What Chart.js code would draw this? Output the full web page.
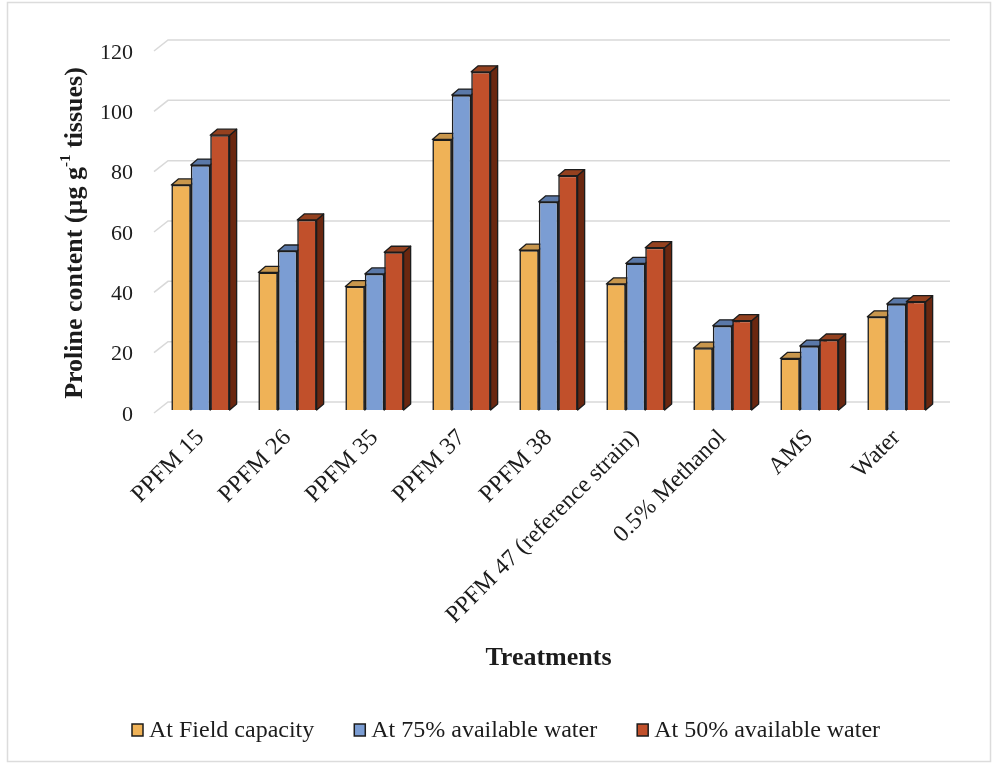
<!DOCTYPE html>
<html>
<head>
<meta charset="utf-8">
<script src="https://cdn.jsdelivr.net/npm/chart.js@4/dist/chart.umd.min.js"></script>
<style>
  html, body { margin: 0; padding: 0; background: #fff; }
  #wrap { width: 999px; height: 767px; position: relative; }
</style>
</head>
<body>
<div id="wrap"><canvas id="c" width="999" height="767"></canvas></div>
<script>
// Proline content (µg g-1 tissues) per treatment and soil-water level
const treatments = ['PPFM 15', 'PPFM 26', 'PPFM 35', 'PPFM 37', 'PPFM 38',
  'PPFM 47 (reference strain)', '0.5% Methanol', 'AMS', 'Water'];
const fieldCapacity = [74.6, 45.6, 40.9, 89.7, 53.0, 41.8, 20.5, 17.1, 30.9];
const water75 = [81.2, 52.7, 45.1, 104.4, 69.0, 48.6, 27.9, 21.2, 35.1];
const water50 = [91.1, 63.0, 52.3, 112.1, 77.7, 53.8, 29.6, 23.2, 35.9];
const seriesNames = ['At Field capacity', 'At 75% available water', 'At 50% available water'];
const yTicks = [0, 20, 40, 60, 80, 100, 120];

const SERIF = '"Liberation Serif", "Times New Roman", serif';
const INK = '#1c1c1c';

// face colours: front, top, side
const faces = [
  { front: '#efb257', top: '#c8964c', side: '#a8742e' },
  { front: '#7b9dd3', top: '#5a78a8', side: '#3f5887' },
  { front: '#c1502b', top: '#94411f', side: '#6a2710' }
];
const DX = 7, DY = 6;

// back-wall gridlines plus the top and side faces of each bar
const depthPlugin = {
  id: 'depth',
  beforeDraw(chart) {
    const ctx = chart.ctx;
    ctx.save();
    ctx.fillStyle = '#fff';
    ctx.fillRect(0, 0, chart.width, chart.height);
    ctx.restore();
  },
  beforeDatasetsDraw(chart) {
    const ctx = chart.ctx;
    const xs = chart.scales.x, ys = chart.scales.y;
    ctx.save();
    ctx.strokeStyle = '#d9d9d9';
    ctx.lineWidth = 1.5;
    yTicks.forEach(v => {
      const y = ys.getPixelForValue(v);
      ctx.beginPath();
      ctx.moveTo(xs.left - 3, y + 3);
      ctx.lineTo(xs.left + 11, y - 8);
      ctx.lineTo(xs.right + 10, y - 8);
      ctx.stroke();
    });
    ctx.lineWidth = 1.3;
    ctx.strokeStyle = INK;
    ctx.lineJoin = 'round';
    chart.data.datasets.forEach((ds, i) => {
      const meta = chart.getDatasetMeta(i);
      meta.data.forEach(bar => {
        const p = bar.getProps(['x', 'y', 'base', 'width'], true);
        const l = p.x - p.width / 2, r = p.x + p.width / 2;
        // side face
        ctx.fillStyle = faces[i].side;
        ctx.beginPath();
        ctx.moveTo(r, p.base);
        ctx.lineTo(r + DX, p.base - DY);
        ctx.lineTo(r + DX, p.y - DY);
        ctx.lineTo(r, p.y);
        ctx.closePath();
        ctx.fill();
        ctx.stroke();
        // top face
        ctx.fillStyle = faces[i].top;
        ctx.beginPath();
        ctx.moveTo(l, p.y);
        ctx.lineTo(l + DX, p.y - DY);
        ctx.lineTo(r + DX, p.y - DY);
        ctx.lineTo(r, p.y);
        ctx.closePath();
        ctx.fill();
        ctx.stroke();
      });
    });
    ctx.restore();
  },
  afterDraw(chart) {
    const ctx = chart.ctx;
    ctx.save();
    // outer frame
    ctx.strokeStyle = '#dcdcdc';
    ctx.lineWidth = 1.5;
    ctx.strokeRect(7.5, 2.5, 983, 759);

    // y-axis title with superscript
    const big = 'bold 26px ' + SERIF, small = 'bold 15px ' + SERIF;
    const parts = [
      { t: 'Proline content (\u00b5g g', f: big, dy: 0 },
      { t: '-1', f: small, dy: -9 },
      { t: ' tissues)', f: big, dy: 0 }
    ];
    let total = 0;
    parts.forEach(pt => { ctx.font = pt.f; pt.w = ctx.measureText(pt.t).width; total += pt.w; });
    ctx.translate(75, 233);
    ctx.rotate(-Math.PI / 2);
    ctx.fillStyle = INK;
    ctx.textBaseline = 'middle';
    ctx.textAlign = 'left';
    let x = -total / 2;
    parts.forEach(pt => { ctx.font = pt.f; ctx.fillText(pt.t, x, pt.dy); x += pt.w; });
    ctx.setTransform(1, 0, 0, 1, 0, 0);

    // legend
    ctx.font = '24px ' + SERIF;
    ctx.textBaseline = 'middle';
    let lx = 132;
    const ly = 730;
    chart.data.datasets.forEach((ds, i) => {
      ctx.fillStyle = faces[i].front;
      ctx.fillRect(lx, ly - 6, 11, 12);
      ctx.strokeStyle = INK;
      ctx.lineWidth = 1.5;
      ctx.strokeRect(lx, ly - 6, 11, 12);
      ctx.fillStyle = INK;
      ctx.fillText(ds.label, lx + 17, ly + 1);
      lx += 17 + ctx.measureText(ds.label).width + 40;
    });
    ctx.restore();
  }
};

const seriesValues = [fieldCapacity, water75, water50];

new Chart(document.getElementById('c'), {
  type: 'bar',
  data: {
    labels: treatments,
    datasets: seriesValues.map((vals, i) => ({
      label: seriesNames[i],
      data: vals,
      backgroundColor: faces[i].front,
      borderColor: INK,
      borderWidth: 1.6,
      categoryPercentage: 0.67,
      barPercentage: 1.0
    }))
  },
  options: {
    responsive: false,
    animation: false,
    layout: { padding: { left: 40, top: 48, right: 59, bottom: 67 } },
    plugins: { legend: { display: false }, tooltip: { enabled: false } },
    scales: {
      x: {
        grid: { display: false },
        border: { display: false },
        ticks: {
          color: INK, font: { family: SERIF, size: 24 },
          maxRotation: 45, minRotation: 45, autoSkip: false, padding: 6
        },
        title: {
          display: true, text: 'Treatments', color: INK,
          font: { family: SERIF, size: 26, weight: 'bold' },
          padding: { top: 0, bottom: 26 }
        },
        afterFit(scale) { scale.height = 290; }
      },
      y: {
        min: 0, max: 120,
        grid: { display: false, drawTicks: false },
        border: { display: false },
        ticks: {
          stepSize: 20, color: INK, font: { family: SERIF, size: 22 },
          padding: 24, labelOffset: 5
        },
        afterFit(scale) { scale.width = 117; }
      }
    }
  },
  plugins: [depthPlugin]
});
</script>
</body>
</html>
